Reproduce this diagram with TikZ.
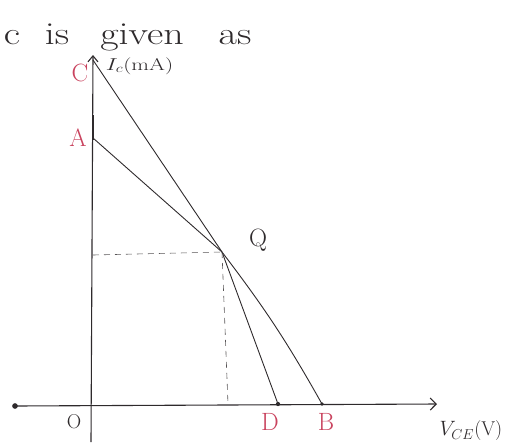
\documentclass[tikz,border=0pt]{standalone}
\usetikzlibrary{arrows.meta}
\definecolor{ink}{HTML}{2E2A2C}
\definecolor{redink}{HTML}{C9435E}
\begin{document}
\begin{tikzpicture}[x=1pt,y=-1pt,
  axis/.style={ink,line width=1.1pt},
  curve/.style={ink,line width=0.9pt},
  guide/.style={ink!80,line width=0.6pt,dash pattern=on 6pt off 5pt},
  ptlabel/.style={redink,font=\fontsize{25}{28}\selectfont},
  blklabel/.style={ink,font=\fontsize{25}{28}\selectfont},
  topword/.style={ink,font=\fontsize{32}{36}\selectfont,anchor=base,xscale=1.25},
  dotmark/.style={circle,fill=ink,inner sep=1.6pt}]
\useasboundingbox (0,0) rectangle (527,445);
% top text
\node[topword] (w1) at (12,44) {c};
\node[topword] (w2) at (57,44) {is};
\node[topword] (w3) at (142,44) {given};
\node[topword] (w4) at (235,44) {as};
% axes
\coordinate (ybot) at (91,442);
\coordinate (ytop) at (93,55);
\coordinate (xl) at (15,406);
\coordinate (xr) at (437,404);
\draw[axis,-{Straight Barb[length=6pt,width=10pt]}] (ybot) -- (ytop);
\draw[axis,-{Straight Barb[length=6pt,width=12pt]}] (xl) -- (xr);
\node[dotmark,inner sep=2pt] (xend) at (xl) {};
% points
\coordinate (O) at (91,405);
\coordinate (C) at (93,60);
\coordinate (A) at (93,138);
\coordinate (Q) at (222,252);
\coordinate (D) at (278,404);
\coordinate (B) at (322,404);
\coordinate (Qy) at (93,255);
\coordinate (Qx) at (228,404);
\draw[axis] (93,115) -- (93,140);
% load lines
\draw[curve] (C) -- (Q) to[bend left=4] (B);
\draw[curve] (A) -- (Q) -- (D);
\node[dotmark,inner sep=1.5pt] (dD) at (D) {};
\node[dotmark,inner sep=1.3pt] (dB) at (B) {};
% guides
\draw[guide] (Qy) -- (Q);
\draw[guide] (Q) -- (Qx);
% labels
\node[ink,font=\fontsize{17}{20}\selectfont,anchor=west,xscale=1.35] (ylab) at (101,66) {$I_c$(mA)};
\node[ink,font=\fontsize{20}{24}\selectfont,anchor=west] (xlab) at (436,431) {$V_{CE}$(V)};
\node[ptlabel] (lC) at (80,73) {C};
\node[ptlabel] (lA) at (78,138) {A};
\node[blklabel] (lQ) at (258,240) {Q};
\node[blklabel,font=\fontsize{20}{24}\selectfont] (lO) at (74,422) {O};
\node[ptlabel] (lD) at (270,422) {D};
\node[ptlabel] (lB) at (326,422) {B};
\end{tikzpicture}
\end{document}
